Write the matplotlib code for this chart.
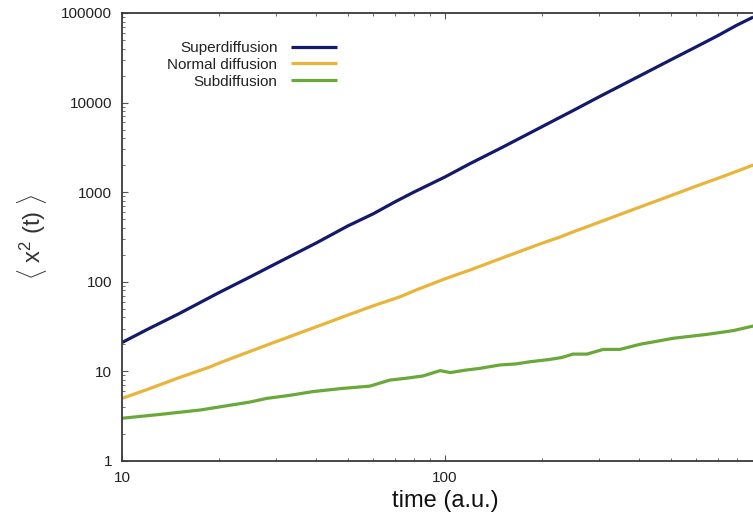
import matplotlib
matplotlib.use("Agg")
import matplotlib.pyplot as plt
from matplotlib.ticker import LogLocator, FixedLocator, NullFormatter

plt.rcParams['font.family'] = ['Liberation Sans', 'DejaVu Sans']
plt.rcParams['mathtext.fontset'] = 'custom'
plt.rcParams['mathtext.rm'] = 'Liberation Sans'
plt.rcParams['mathtext.it'] = 'Liberation Sans'

# ---- data ----
t_super = [10, 12, 15, 20, 25, 30, 40, 50, 60, 70, 80, 100, 120, 150, 200,
           250, 300, 400, 500, 600, 700, 800, 900]
msd_super = [21, 29.5, 44, 76, 114, 160, 272, 420, 575, 780, 1000, 1480, 2100,
             3150, 5400, 8200, 11600, 19800, 30000, 42000, 56000, 73000, 90000]

t_normal = [10, 12, 15, 18.7, 20, 25, 30, 40, 50, 60, 72.6, 80, 100, 120, 150,
            200, 227, 250, 300, 400, 500, 600, 700, 800, 900]
msd_normal = [5.0, 6.3, 8.5, 11.2, 12.4, 16.8, 21.5, 31.5, 42.5, 54, 68, 79,
              108, 136, 184, 270, 316, 362, 462, 680, 915, 1170, 1430, 1710, 2010]

t_sub = [10, 13, 17.4, 24.9, 28.1, 33, 39, 48, 58.5, 67.5, 76, 85.5, 96.6, 104,
         115, 128, 148, 165, 183, 211, 230, 249, 275, 309, 348, 402, 450, 508,
         647, 780, 900]
msd_sub = [3.0, 3.3, 3.7, 4.55, 5.0, 5.4, 5.95, 6.45, 6.85, 8.0, 8.4, 8.9, 10.2,
           9.7, 10.3, 10.8, 11.8, 12.1, 12.8, 13.6, 14.3, 15.6, 15.6, 17.6, 17.6,
           20.1, 21.6, 23.4, 25.9, 28.5, 32.1]

labels = ["Superdiffusion", "Normal diffusion", "Subdiffusion"]
colors = ["#141a6b", "#e8b43a", "#6aa83a"]

x_ticks = [10, 100]
x_ticklabels = ["10", "100"]
y_ticks = [1, 10, 100, 1000, 10000, 100000]
y_ticklabels = ["1", "10", "100", "1000", "10000", "100000"]

# ---- figure ----
W, H = 753, 516
fig = plt.figure(figsize=(W / 100, H / 100), dpi=100)
left, right, top, bottom = 122, 768, 13, 461
ax = fig.add_axes([left / W, 1 - bottom / H, (right - left) / W, (bottom - top) / H])

for t, m, lab, c in zip([t_super, t_normal, t_sub],
                        [msd_super, msd_normal, msd_sub], labels, colors):
    ax.plot(t, m, color=c, lw=2.3, label=lab, solid_capstyle='butt')

ax.set_xscale('log')
ax.set_yscale('log')
ax.set_xlim(10, 1000)
ax.set_ylim(1, 100000)

ax.xaxis.set_major_locator(FixedLocator(x_ticks))
ax.set_xticklabels(x_ticklabels)
ax.yaxis.set_major_locator(FixedLocator(y_ticks))
ax.set_yticklabels(y_ticklabels)
ax.xaxis.set_minor_locator(LogLocator(base=10, subs=range(2, 10)))
ax.yaxis.set_minor_locator(LogLocator(base=10, subs=range(2, 10)))
ax.xaxis.set_minor_formatter(NullFormatter())
ax.yaxis.set_minor_formatter(NullFormatter())

spine_col = '#3a3a3a'
for s in ['left', 'bottom', 'top', 'right']:
    ax.spines[s].set_color(spine_col)
    ax.spines[s].set_linewidth(1.3)

ax.tick_params(which='both', direction='in', color='#555555', top=True, right=True,
               labelsize=11, labelcolor='#222222')
ax.tick_params(which='major', length=4.5, width=0.8, pad=7)
ax.tick_params(which='minor', length=2.5, width=0.6)

ax.set_xlabel("time (a.u.)", fontsize=17, color='#111111', labelpad=4)
ax.set_ylabel(r"$\langle\ \mathrm{x}^{2}\ \mathrm{(t)}\ \rangle$", fontsize=17,
              color='#333333', labelpad=9)

leg = ax.legend(loc='upper right', bbox_to_anchor=(337 / W, 1 - 41 / H),
                bbox_transform=fig.transFigure, frameon=False, markerfirst=False,
                fontsize=11, handlelength=3.0, handletextpad=0.9,
                labelspacing=0.18, borderpad=0, borderaxespad=0)
for txt in leg.get_texts():
    txt.set_color('#222222')

fig.savefig("out.png", dpi=100)
